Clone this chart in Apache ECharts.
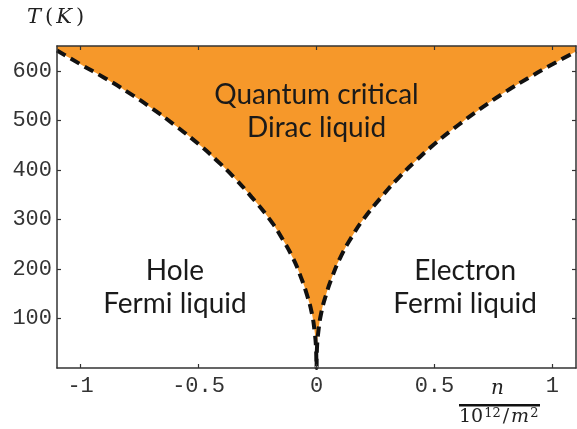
<!DOCTYPE html>
<html><head><meta charset="utf-8">
<script src="https://cdn.jsdelivr.net/npm/echarts@6/dist/echarts.min.js"></script>
<style>html,body{margin:0;padding:0;background:#fff}#c{width:577px;height:429px}</style>
</head><body><div id="c"></div>
<script>
// crossover line T*(n) (n in 10^12/m^2, T in K)
const curveN = [-1.1,-1.0,-0.9,-0.8,-0.7,-0.6,-0.5,-0.425,-0.35,-0.275,-0.2,-0.15,-0.1,-0.065,-0.04,-0.02,-0.008,-0.002,0,
                0.002,0.008,0.02,0.04,0.065,0.1,0.15,0.2,0.275,0.35,0.425,0.5,0.6,0.7,0.8,0.9,1.0,1.1];
const curveT = [641,613,586,557,525,490,452,420,385,345,301,265,222,182,147,111,74,40,0,
                40,74,111,147,182,222,265,301,345,385,420,452,490,525,557,586,613,639];
const xTicks = [-1,-0.5,0,0.5,1];
const yTicks = [100,200,300,400,500,600];
const regionLabels = [
  {lines:['Quantum critical','Dirac liquid'], n:0, T:518},
  {lines:['Hole','Fermi liquid'], n:-0.6, T:162},
  {lines:['Electron','Fermi liquid'], n:0.63, T:162}
];

const chart = echarts.init(document.getElementById('c'));
const axisCol = '#333';
const data = curveN.map((n,i)=>[n,curveT[i]]);
const tickStyle = {show:true,inside:true,length:4,lineStyle:{color:axisCol,width:1.2}};
const lineStyle = {show:true,onZero:false,lineStyle:{color:axisCol,width:1.5}};
chart.setOption({
  animation:false,
  grid: {left:57, right:1, top:46, bottom:61},
  xAxis: [{
    type:'value', min:-1.1, max:1.1, z:10,
    axisLine:lineStyle,
    axisTick:Object.assign({customValues:xTicks}, tickStyle),
    axisLabel:{customValues:xTicks, margin:7, color:'#333', fontFamily:'Liberation Mono', fontSize:22,
      formatter:v=>String(v)},
    splitLine:{show:false}
  },{
    type:'value', min:-1.1, max:1.1, position:'top', z:10,
    axisLine:lineStyle,
    axisTick:Object.assign({customValues:xTicks}, tickStyle),
    axisLabel:{show:false}, splitLine:{show:false}
  }],
  yAxis: [{
    type:'value', min:0, max:650, z:10,
    axisLine:lineStyle,
    axisTick:Object.assign({customValues:yTicks}, tickStyle),
    axisLabel:{customValues:yTicks, margin:5, color:'#333', fontFamily:'Liberation Mono', fontSize:22},
    splitLine:{show:false}
  },{
    type:'value', min:0, max:650, position:'right', z:10,
    axisLine:lineStyle,
    axisTick:Object.assign({customValues:yTicks}, tickStyle),
    axisLabel:{show:false}, splitLine:{show:false}
  }],
  series: [{
    type:'line', data:data, showSymbol:false, smooth:0.5,
    lineStyle:{color:'#111', width:4, type:[10,6]},
    areaStyle:{color:'#F6982A', opacity:1, origin:'end'},
    z:3
  }]
});

// region labels positioned via the chart's scales
const gfx = [];
regionLabels.forEach(r=>{
  const p = chart.convertToPixel({xAxisIndex:0,yAxisIndex:0},[r.n,r.T]);
  gfx.push({type:'text', x:p[0], y:p[1], z:10, style:{text:r.lines.join('\n'), fill:'#1a1a1a',
    font:'28px Lato', align:'center', verticalAlign:'middle', lineHeight:33}});
});
const serif = '"DejaVu Serif"';
gfx.push({type:'text', left:27, top:7, style:{
  text:'{i|T}{r|(}{i|K}{r|)}', fill:'#222',
  rich:{i:{font:'italic 21px '+serif, fill:'#222', padding:[0,2,0,1]}, r:{font:'21px '+serif, fill:'#222', padding:[0,2,0,2]}}
}});
gfx.push({type:'text', left:491, top:379, style:{text:'n', fill:'#222', font:'italic 20px '+serif}});
gfx.push({type:'rect', shape:{x:459,y:404,width:81,height:2.6}, style:{fill:'#111'}});
gfx.push({type:'text', left:459, top:407, style:{
  text:'{r|10}{s|12}{r|/}{i|m}{s|2}', fill:'#222',
  rich:{
    r:{font:'19px '+serif, fill:'#222', padding:[0,1,0,0]},
    i:{font:'italic 19px '+serif, fill:'#222', padding:[0,1,0,1]},
    s:{font:'13px '+serif, fill:'#222', verticalAlign:'top', padding:[0,2,8,0]}
  }
}});
chart.setOption({graphic:gfx});
</script></body></html>
